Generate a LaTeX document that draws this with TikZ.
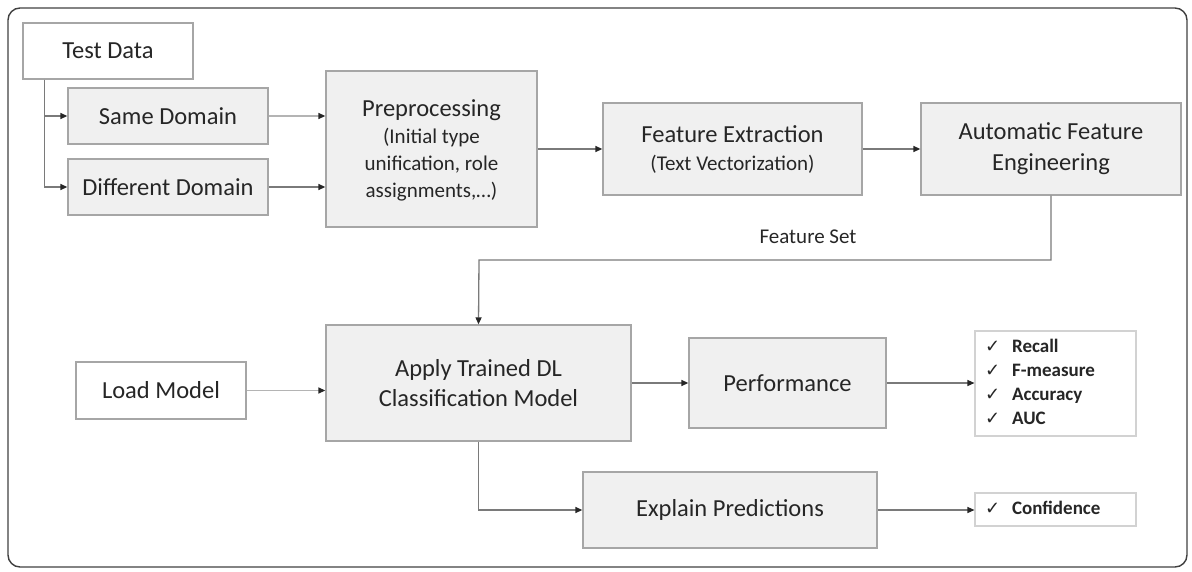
\documentclass[tikz,border=0pt]{standalone}
\usepackage{fontspec}
\setmainfont{Carlito}
\newfontfamily\dvfont{DejaVu Sans}
\usetikzlibrary{arrows.meta}
\definecolor{boxfill}{HTML}{F0F0F0}
\definecolor{boxline}{HTML}{A6A6A6}
\definecolor{conn}{HTML}{7A7A7A}
\definecolor{connlight}{HTML}{B4B4B4}
\definecolor{txt}{HTML}{262626}
\definecolor{listline}{HTML}{D2D2D2}
\newcommand{\ck}{{\dvfont\fontsize{18}{24}\selectfont\mdseries ✓}}
\tikzset{
  base/.style={draw=boxline, line width=1.3pt, text=txt, align=center, inner sep=0pt},
  graybox/.style={base, fill=boxfill},
  whitebox/.style={base, fill=white},
  mainfont/.style={font=\fontsize{24.5}{29}\selectfont},
  listbox/.style={draw=listline, line width=1.1pt, fill=white, text=txt, inner xsep=10pt, inner ysep=0pt, align=left},
  arr/.style={draw=conn, line width=1.3pt, -{Triangle[length=7pt,width=6pt,color=black!85]}},
  arrlight/.style={arr, draw=connlight},
  line/.style={draw=conn, line width=1.3pt}
}
\begin{document}
\begin{tikzpicture}[x=1pt,y=-1pt]
\useasboundingbox (0,0) rectangle (1192,571);
\draw[black!75, line width=1.4pt, rounded corners=12pt] (8,8) rectangle (1187,567);

% top row
\node[whitebox, mainfont, minimum width=170pt, minimum height=56pt] (td) at (108,51) {Test Data};
\node[graybox, mainfont, minimum width=200pt, minimum height=56pt] (same) at (168,116) {Same Domain};
\node[graybox, mainfont, minimum width=200pt, minimum height=56pt] (diff) at (168,187) {Different Domain};
\node[graybox, font=\fontsize{24.5}{27}\selectfont, minimum width=211pt, minimum height=156pt, text depth=-6pt] (prep) at (431.5,149)
  {Preprocessing\\ \fontsize{21}{27}\selectfont (Initial type\\ \fontsize{21}{27}\selectfont unification, role\\ \fontsize{21}{27}\selectfont assignments,…)};
\node[graybox, font=\fontsize{24.5}{28}\selectfont, minimum width=259pt, minimum height=92pt] (fe) at (732.5,149)
  {Feature Extraction\\ \fontsize{21}{28}\selectfont (Text Vectorization)};
\node[graybox, font=\fontsize{24.5}{31}\selectfont, minimum width=260pt, minimum height=92pt] (afe) at (1051,149)
  {Automatic Feature\\Engineering};

% bottom part
\node[whitebox, mainfont, minimum width=170pt, minimum height=57pt] (load) at (161,390.5) {Load Model};
\node[graybox, font=\fontsize{24.5}{30}\selectfont, minimum width=305pt, minimum height=116pt] (apply) at (478.5,383)
  {Apply Trained DL\\Classification Model};
\node[graybox, mainfont, minimum width=197pt, minimum height=90pt] (perf) at (787.5,383) {Performance};
\node[graybox, mainfont, minimum width=294pt, minimum height=76pt] (expl) at (730,510) {Explain Predictions};

\node[listbox, text width=141pt, minimum height=105pt] (met) at (1055.5,383.5)
  {\fontsize{19}{24}\selectfont\bfseries
   \begin{tabular}{@{}l@{\hspace{12pt}}l@{}}
   \ck & Recall\\
   \ck & F-measure\\
   \ck & Accuracy\\
   \ck & AUC
   \end{tabular}};
\node[listbox, text width=141pt, minimum height=33pt] (conf) at (1055.5,509.5)
  {\fontsize{19}{24}\selectfont\bfseries
   \begin{tabular}{@{}l@{\hspace{12pt}}l@{}}
   \ck & Confidence
   \end{tabular}};

% connectors
\coordinate (brtop) at ([xshift=22pt]td.south west);
\draw[arr] (brtop) |- (same.west);
\draw[arr] (brtop) |- (diff.west);
\draw[arrlight] (same.east) -- (same.east -| prep.west);
\draw[arr] (diff.east) -- (diff.east -| prep.west);
\draw[arr] (prep.east) -- (fe.west);
\draw[arr] (fe.east) -- (afe.west);
\coordinate (fsbend) at (479,260);
\draw[arr] (afe.south) |- (fsbend) -- (apply.north);
\node[text=txt, font=\fontsize{21}{25}\selectfont] (fslabel) at (808,237) {Feature Set};
\draw[arrlight] (load.east) -- (load.east -| apply.west);
\draw[arr] (apply.east) -- (perf.west);
\draw[arr] (perf.east) -- (perf.east -| met.west);
\draw[arr] (apply.south) |- (expl.west);
\draw[arr] (expl.east) -- (expl.east -| conf.west);
\end{tikzpicture}
\end{document}
